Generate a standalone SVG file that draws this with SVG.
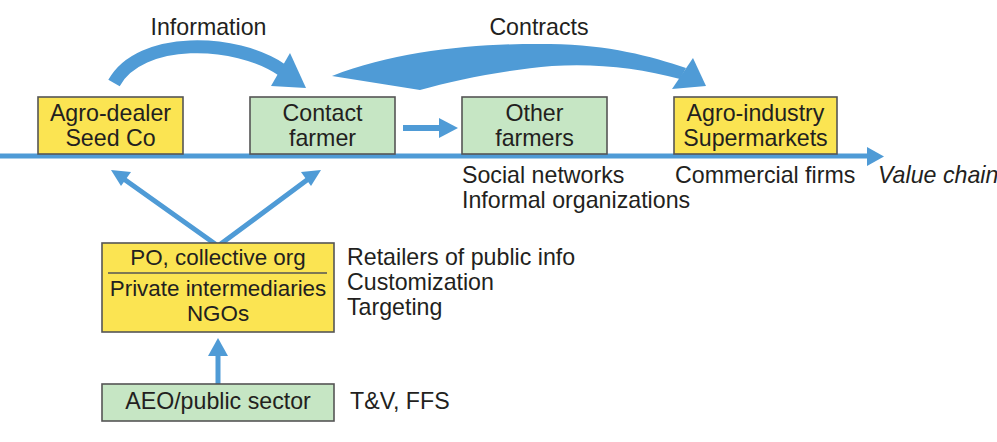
<svg xmlns="http://www.w3.org/2000/svg" width="997" height="442" viewBox="0 0 997 442">
<defs>
<style>
text{font-family:"Liberation Sans",Arial,sans-serif;font-size:23.2px;fill:#231f20}
.c{text-anchor:middle}
.s{font-size:22.4px}
.it{font-style:italic}
.y{fill:#fbe452;stroke:#555;stroke-width:1.6}
.g{fill:#c6e6c4;stroke:#555;stroke-width:1.6}
.ln{stroke:#4f9bd6;fill:none}
.fl{fill:#4f9bd6}
</style>
</defs>
<rect width="997" height="442" fill="#fff"/>
<g id="connectors">
<line class="ln" x1="0" y1="156" x2="870" y2="156" stroke-width="5"/>
<polygon class="fl" points="867,147 884,156.5 867,166"/>
<path class="ln" d="M114,83 C140,36 235,38 282,70" stroke-width="13"/>
<polygon class="fl" points="271,86 290,53 306,88"/>
<path class="fl" d="M332,76 C400,50 480,43 550,44 C610,45 650,56 686,68 L680,79 C640,68 595,63 552,66 C505,70 455,80 420,90 Z"/>
<polygon class="fl" points="672,89 693,58 706,86"/>
<line class="ln" x1="403" y1="128" x2="442" y2="128" stroke-width="6"/>
<polygon class="fl" points="439,118 458,128 439,138"/>
<polyline class="ln" points="121,177 218,246 311,177" stroke-width="5"/>
<polygon class="fl" points="111,170 131,172 121,186"/>
<polygon class="fl" points="321,170 311,186 301,172"/>
<line class="ln" x1="218" y1="384" x2="218" y2="352" stroke-width="5"/>
<polygon class="fl" points="208,356 218,338 228,356"/>
</g>
<g id="agro-dealer">
<rect class="y" x="38" y="97" width="145" height="57"/>
<text class="c" x="110.5" y="121">Agro-dealer</text>
<text class="c" x="110.5" y="146">Seed Co</text>
</g>
<g id="contact-farmer">
<rect class="g" x="250" y="97" width="145" height="57"/>
<text class="c" x="322.5" y="121">Contact</text>
<text class="c" x="322.5" y="146">farmer</text>
</g>
<g id="other-farmers">
<rect class="g" x="462" y="97" width="145" height="57"/>
<text class="c" x="534.5" y="121">Other</text>
<text class="c" x="534.5" y="146">farmers</text>
</g>
<g id="agro-industry">
<rect class="y" x="674" y="97" width="163" height="57"/>
<text class="c" x="755.5" y="121">Agro-industry</text>
<text class="c" x="755.5" y="146">Supermarkets</text>
</g>
<g id="po">
<rect class="y" x="102" y="243" width="232" height="89"/>
<text class="c s" x="218" y="265">PO, collective org</text>
<line x1="108" y1="273" x2="327" y2="273" stroke="#555" stroke-width="1.4"/>
<text class="c s" x="218" y="296">Private intermediaries</text>
<text class="c s" x="218" y="321">NGOs</text>
</g>
<g id="aeo">
<rect class="g" x="102" y="384" width="232" height="37"/>
<text class="c" x="218" y="409">AEO/public sector</text>
</g>
<g id="labels">
<text class="c" x="208.5" y="35">Information</text>
<text class="c" x="539" y="35">Contracts</text>
<text x="462" y="183">Social networks</text>
<text x="462" y="208">Informal organizations</text>
<text x="675" y="183">Commercial firms</text>
<text class="it" x="878" y="183">Value chain</text>
<text x="347" y="265">Retailers of public info</text>
<text x="347" y="290">Customization</text>
<text x="347" y="315">Targeting</text>
<text x="350" y="409">T&amp;V, FFS</text>
</g>
</svg>
